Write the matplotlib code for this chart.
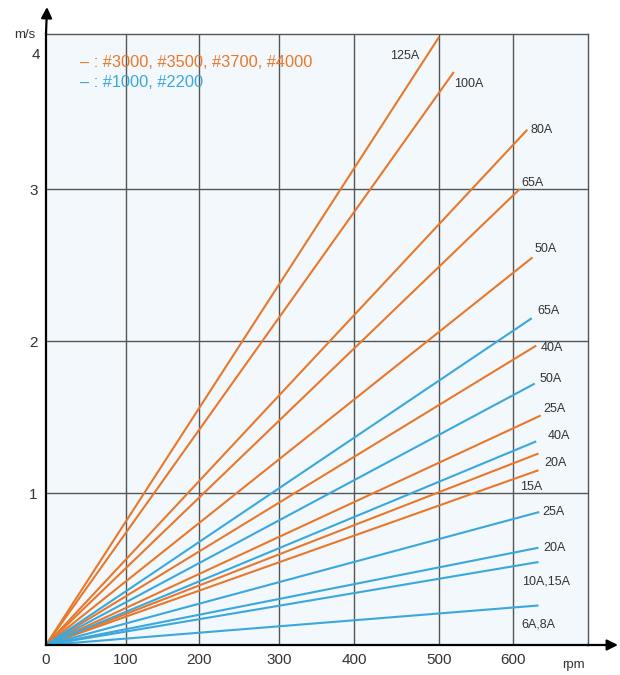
import matplotlib.pyplot as plt
import numpy as np

plt.rcParams['font.family'] = ['Liberation Sans', 'DejaVu Sans']

ORANGE = '#e8782a'
BLUE = '#3aa8dc'

# series: label, end rpm, end speed (m/s); lines start at origin
orange_labels = ['125A', '100A', '80A', '65A', '50A', '40A', '25A', '20A', '15A']
orange_rpm = [500, 520, 619, 609, 626, 631, 637, 634, 634]
orange_ms = [4.0, 3.77, 3.39, 3.0, 2.55, 1.97, 1.51, 1.26, 1.15]

blue_labels = ['65A', '50A', '40A', '25A', '20A', '10A,15A', '6A,8A']
blue_rpm = [625, 629, 631, 635, 634, 634, 634]
blue_ms = [2.15, 1.72, 1.34, 0.875, 0.64, 0.546, 0.26]

x_ticks = [0, 100, 200, 300, 400, 500, 600]
y_ticks = [1, 2, 3]

# the printed grid is slightly uneven: where each 100 rpm step sits on the page
grid_rpm = [0, 100, 200, 300, 400, 500, 600, 700]
grid_pos = [0, 80, 153, 233, 308, 393, 467, 542]

def fwd(x):
	return np.interp(x, grid_rpm, grid_pos)

def inv(x):
	return np.interp(x, grid_pos, grid_rpm)

# label offsets (points) from line end
orange_off = [(-35, -14), (0, -9), (2, 0), (1.5, 4), (1.5, 6), (3, -2), (2, 5), (4, -7), (-13, -12)]
blue_off = [(4, 5), (3.5, 3), (8, 4), (2, 0), (3.5, 0), (-12, -14), (-12, -14)]

fig = plt.figure(figsize=(6.2, 6.75), dpi=100)
ax = fig.add_axes([46/620, 30/675, 542/620, 611/675])
ax.set_facecolor('#f2f8fc')
ax.set_xscale('function', functions=(fwd, inv))
ax.set_xlim(0, 700)
ax.set_ylim(0, 4.02)

for x in x_ticks[1:]:
	ax.axvline(x, color='#555555', lw=1.0, zorder=1)
for y in y_ticks:
	ax.axhline(y, color='#555555', lw=1.0, zorder=1)

for lab, r, v, off in zip(orange_labels, orange_rpm, orange_ms, orange_off):
	ax.plot([0, r], [0, v], color=ORANGE, lw=1.5, zorder=3, solid_capstyle='butt')
	ax.annotate(lab, (r, v), xytext=off, textcoords='offset points',
				fontsize=9, color='#333333', va='center', ha='left')
for lab, r, v, off in zip(blue_labels, blue_rpm, blue_ms, blue_off):
	ax.plot([0, r], [0, v], color=BLUE, lw=1.5, zorder=3, solid_capstyle='butt')
	ax.annotate(lab, (r, v), xytext=off, textcoords='offset points',
				fontsize=9, color='#333333', va='center', ha='left')

for s in ['top', 'right']:
	ax.spines[s].set_color('#555555')
	ax.spines[s].set_linewidth(1.0)
for s in ['left', 'bottom']:
	ax.spines[s].set_color('black')
	ax.spines[s].set_linewidth(1.6)
	ax.spines[s].set_zorder(4)

ax.set_xticks(x_ticks)
ax.set_xticklabels([str(t) for t in x_ticks])
ax.xaxis.set_minor_locator(plt.NullLocator())
ax.set_yticks(y_ticks)
ax.tick_params(length=0, labelsize=11, labelcolor='#333333', pad=6)

# arrows on axes
ax.annotate('', xy=(47/620, 668/675), xycoords='figure fraction',
			xytext=(46/620, 641/675), textcoords='figure fraction',
			arrowprops=dict(arrowstyle='-|>', color='black', lw=1.6, mutation_scale=16, shrinkA=0, shrinkB=0))
ax.annotate('', xy=(618/620, 30/675), xycoords='figure fraction',
			xytext=(587/620, 30/675), textcoords='figure fraction',
			arrowprops=dict(arrowstyle='-|>', color='black', lw=1.6, mutation_scale=16, shrinkA=0, shrinkB=0))

fig.text(40/620, 3.88/4.02*611/675 + 30/675, '4', fontsize=11, color='#333333', ha='right', va='center')
fig.text(35/620, 640/675, 'm/s', fontsize=9.5, color='#333333', ha='right', va='center')
fig.text(573/620, 10/675, 'rpm', fontsize=9.5, color='#333333', ha='center', va='center')

ax.text(0.063, 0.953, '\u2013 : #3000, #3500, #3700, #4000', transform=ax.transAxes,
		color=ORANGE, fontsize=11.8, va='center')
ax.text(0.063, 0.92, '\u2013 : #1000, #2200', transform=ax.transAxes,
		color=BLUE, fontsize=11.8, va='center')

fig.savefig('out.png', dpi=100)
